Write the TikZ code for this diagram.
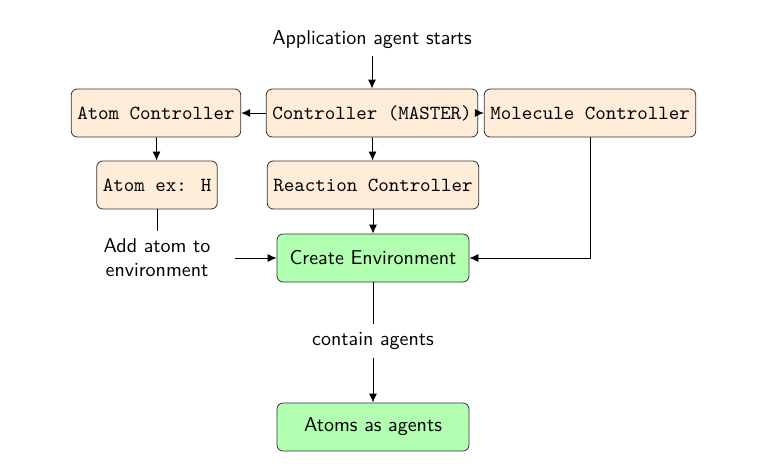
\documentclass[tikz,border=0pt]{standalone}
\usetikzlibrary{arrows.meta}
\begin{document}
\begin{tikzpicture}[x=0.5pt,y=-0.5pt,
  ctrl/.style={draw=black!80, fill=orange!15, rounded corners=3pt, font=\ttfamily, minimum height=24pt, inner sep=3pt},
  envbox/.style={draw=black!80, fill=green!30, rounded corners=3pt, font=\sffamily, minimum height=24pt, minimum width=96pt},
  plain/.style={font=\sffamily, align=center},
  arr/.style={-{Latex[length=4.5pt,width=4pt]}},
  line/.style={draw}]
\useasboundingbox (0,0) rectangle (772,471);
\node[plain] (start) at (372,40) {Application agent starts};
\node[ctrl] (master) at (372,113) {Controller (MASTER)};
\node[ctrl] (atomc) at (156,113) {Atom Controller};
\node[ctrl] (molc) at (590,113) {Molecule Controller};
\node[ctrl, minimum width=60pt] (atomh) at (157,185) {Atom ex: H};
\node[ctrl] (reac) at (373,185) {Reaction Controller};
\node[envbox] (env) at (373,258) {Create Environment};
\node[plain, text width=70pt, inner sep=4pt] (add) at (157,258) {Add atom to environment};
\node[plain, fill=white, inner sep=4pt] (contain) at (373,341) {contain agents};
\node[envbox] (atoms) at (373,427) {Atoms as agents};

\draw[arr] (start) -- (master);
\draw[arr] (master) -- (atomc);
\draw[arr] (master) -- (molc);
\draw[arr] (atomc) -- (atomh);
\draw[arr] (master) -- (reac);
\draw[arr] (reac) -- (env);
\draw (atomh) -- (add);
\draw[arr] (add) -- (env);
\draw[arr] (molc.south) |- (env.east);
\draw (env) -- (contain);
\draw[arr] (contain) -- (atoms);
\end{tikzpicture}
\end{document}
